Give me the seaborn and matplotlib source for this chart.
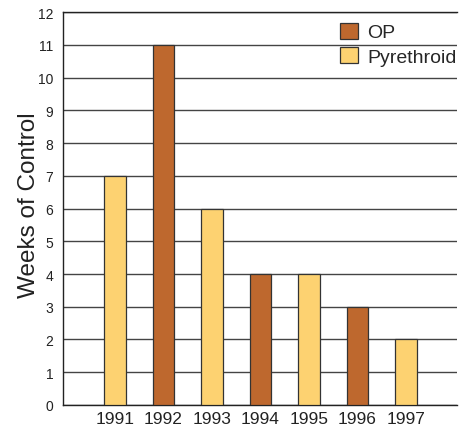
import matplotlib
matplotlib.use("Agg")
import matplotlib.pyplot as plt
import seaborn as sns
import pandas as pd

years = ["1991", "1992", "1993", "1994", "1995", "1996", "1997"]
weeks = [7, 11, 6, 4, 4, 3, 2]
chem = ["Pyrethroid", "OP", "Pyrethroid", "OP", "Pyrethroid", "OP", "Pyrethroid"]
hue_order = ["OP", "Pyrethroid"]
palette = {"OP": "#BE682E", "Pyrethroid": "#FDD271"}

df = pd.DataFrame({"Year": years, "Weeks": weeks, "Type": chem})

sns.set_style("white")
plt.rcParams["font.family"] = ["Liberation Sans", "DejaVu Sans"]

fig = plt.figure(figsize=(4.72, 4.35), dpi=100)
ax = fig.add_axes([0.1335, 0.0667, 0.8347, 0.9033])

sns.barplot(data=df, x="Year", y="Weeks", hue="Type", hue_order=hue_order,
            palette=palette, dodge=False, width=0.45, saturation=1,
            edgecolor="#333333", linewidth=0.9, ax=ax, zorder=3)

ax.set_ylim(0, 12)
ax.set_xlim(-1.07, 7.05)
ax.set_yticks(range(0, 13))
ax.yaxis.grid(True, color="#444444", linewidth=1.0, zorder=0)
ax.set_axisbelow(True)
ax.spines["right"].set_visible(False)
for s in ["left", "bottom", "top"]:
    ax.spines[s].set_color("#222222")
    ax.spines[s].set_linewidth(1.0)
ax.tick_params(axis="y", length=0, labelsize=10, colors="#222222", pad=7)
ax.tick_params(axis="x", length=0, labelsize=12.5, colors="#222222", pad=4)
ax.set_xlabel("")
ax.set_ylabel("Weeks of Control", fontsize=17.5, color="#222222")
ax.yaxis.set_label_coords(-0.058, 0.511)

leg = ax.legend(loc="upper right", bbox_to_anchor=(1.0, 0.973), frameon=False,
                fontsize=14, handlelength=0.9, handleheight=0.9,
                handletextpad=0.5, labelspacing=0.3, borderaxespad=0.0,
                borderpad=0.0)
for h in leg.legend_handles:
    h.set_edgecolor("#333333")

fig.savefig("out.png", dpi=100)
